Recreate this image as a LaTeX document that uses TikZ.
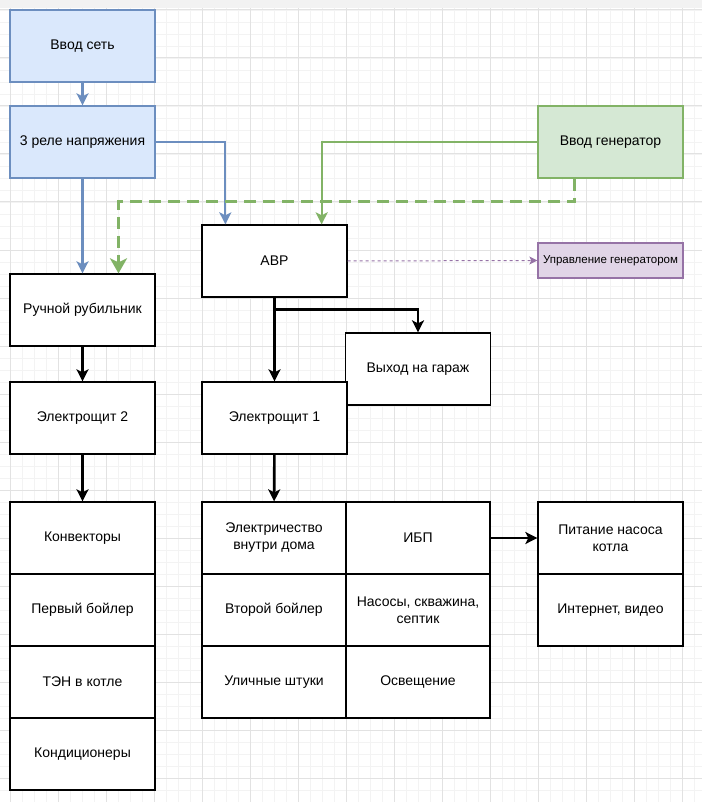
\documentclass[tikz,border=0pt]{standalone}
\usepackage{fontspec}
\setmainfont{Liberation Sans}
\usetikzlibrary{arrows.meta}
\definecolor{netfill}{HTML}{DAE8FC}
\definecolor{netline}{HTML}{6C8EBF}
\definecolor{genfill}{HTML}{D5E8D4}
\definecolor{genline}{HTML}{82B366}
\definecolor{ctlfill}{HTML}{E1D5E7}
\definecolor{ctlline}{HTML}{9673A6}
\definecolor{gridminor}{HTML}{F3F3F3}
\definecolor{gridmajor}{HTML}{E2E2E2}
\begin{document}
\begin{tikzpicture}[x=1pt, y=-1pt,
        box/.style={draw, line width=1.3pt, fill=white, minimum width=145pt, minimum height=72pt,
            inner sep=2pt, align=center, font=\fontsize{14}{17}\selectfont},
        cell/.style={box, minimum width=144pt},
        netbox/.style={box, draw=netline, fill=netfill},
        genbox/.style={box, draw=genline, fill=genfill},
        ctlbox/.style={box, draw=ctlline, fill=ctlfill, minimum height=35pt, inner sep=0pt,
            font=\fontsize{11.5}{13}\selectfont},
        wire/.style={line width=2.6pt, -{Stealth[length=12pt, width=12pt, inset=3pt]}},
        netwire/.style={draw=netline, line width=2.2pt, -{Stealth[length=12pt, width=12pt, inset=3pt]}},
        genwire/.style={draw=genline, line width=2.2pt, -{Stealth[length=12pt, width=12pt, inset=3pt]}},
        genreserve/.style={draw=genline, line width=3.6pt, dash pattern=on 12pt off 7pt,
            -{Stealth[length=15pt, width=17pt, inset=4pt]}},
        ctlwire/.style={draw=ctlline, line width=1pt, dash pattern=on 3pt off 3pt,
            -{Stealth[length=8pt, width=8pt, inset=2pt]}}]
    \useasboundingbox (0,0) rectangle (702,802);
    % grid paper
    \fill[white] (0,0) rectangle (702,802);
    \foreach \g in {-2,10,...,702} {
        \draw[gridminor, line width=0.8pt] (\g,8) -- (\g,802);
    }
    \foreach \g in {10,22,...,802} {
        \draw[gridminor, line width=0.8pt] (0,\g) -- (702,\g);
    }
    \foreach \g in {10,58,...,702} {
        \draw[gridmajor, line width=1pt] (\g,8) -- (\g,802);
    }
    \foreach \g in {10,58,...,802} {
        \draw[gridmajor, line width=1pt] (0,\g) -- (702,\g);
    }
    \fill[black!5] (0,0) rectangle (702,8);

    % inputs
    \node[netbox] (net) at (82.5,46) {Ввод сеть};
    \node[netbox] (relay) at (82.5,142) {3 реле напряжения};
    \node[genbox] (gen) at (610.5,142) {Ввод генератор};
    \node[box] (avr) at (274.5,261) {АВР};
    \node[ctlbox] (genctl) at (610.5,260.5) {Управление генератором};

    % distribution
    \node[box] (manual) at (82.5,310) {Ручной рубильник};
    \node[box] (shield2) at (82.5,418) {Электрощит 2};
    \node[box] (garage) at (418,369) {Выход на гараж};
    \node[box] (shield1) at (274.5,418) {Электрощит 1};

    % consumers
    \foreach \i/\txt in {0/Конвекторы, 1/Первый бойлер, 2/ТЭН в котле, 3/Кондиционеры} {
        \node[box] (left\i) at (82.5,538+72*\i) {\txt};
    }
    \node[cell] (house) at (274,538) {Электричество\\внутри дома};
    \node[cell] (ups) at (418,538) {ИБП};
    \node[cell] (boiler2) at (274,610) {Второй бойлер};
    \node[cell] (pumps) at (418,610) {Насосы, скважина,\\септик};
    \node[cell] (street) at (274,682) {Уличные штуки};
    \node[cell] (light) at (418,682) {Освещение};
    \node[box] (pump) at (610.5,538) {Питание насоса\\котла};
    \node[box] (inet) at (610.5,610) {Интернет, видео};

    % connectors
    \draw[netwire] (net) -- (relay);
    \draw[netwire] (relay) -- (manual);
    \draw[netwire] (relay.east) -| ([xshift=24pt]avr.north west);
    \draw[genwire] (gen.west) -| ([xshift=-26pt]avr.north east);
    \draw[genreserve] ([xshift=-36pt]gen.south) -- ++(0,23) -| ([xshift=36pt]manual.north);
    \draw[ctlwire] (avr.east) -- (genctl.west);
    \draw[wire] (avr) -- (shield1);
    \draw[wire] ([yshift=-12pt]avr.south) -| (garage.north);
    \draw[wire] (manual) -- (shield2);
    \draw[wire] (shield2) -- (left0);
    \draw[wire] (shield1) -- (house);
    \draw[wire] (ups) -- (pump);
\end{tikzpicture}
\end{document}
